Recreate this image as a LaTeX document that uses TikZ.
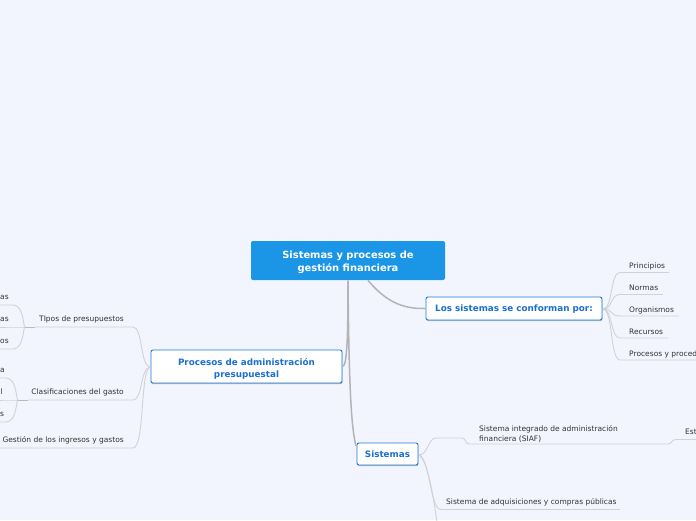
\documentclass[tikz,border=0pt]{standalone}
\usepackage{fontspec}
\setmainfont{DejaVu Sans}
\usetikzlibrary{shadows}
\definecolor{bgc}{HTML}{F2F5FD}
\definecolor{rootfill}{HTML}{1B96E6}
\definecolor{nodeborder}{HTML}{1E7BD6}
\definecolor{nodetext}{HTML}{1A6FCF}
\definecolor{mainline}{HTML}{B4B4B8}
\definecolor{leafline}{HTML}{D0D2D8}
\definecolor{hubline}{HTML}{B8BAC0}
\definecolor{leaftext}{HTML}{333333}
\tikzset{
  rootbox/.style={fill=rootfill, rounded corners=2pt, text=white, align=center,
    font=\bfseries\fontsize{9.9}{13}\selectfont, inner sep=0pt,
    minimum width=194pt, minimum height=39pt},
  mainbox/.style={draw=nodeborder, fill=white, rounded corners=2pt, line width=0.9pt,
    text=nodetext, align=center, font=\bfseries\fontsize{8.8}{12}\selectfont, inner sep=0pt,
    drop shadow={shadow xshift=0.4pt, shadow yshift=-1.2pt, opacity=0.25, fill=black}},
  leaf/.style={text=leaftext, font=\fontsize{7.5}{10}\selectfont, inner sep=0pt},
  mainconn/.style={draw=mainline, line width=1.5pt},
  leafconn/.style={draw=leafline, line width=0.9pt},
  hubconn/.style={draw=hubline, line width=0.9pt}
}
\begin{document}
\begin{tikzpicture}[x=1pt,y=-1pt]
\fill[bgc] (0,0) rectangle (696,520);
\useasboundingbox (0,0) rectangle (696,520);

% ---- main nodes
\node[rootbox] (root) at (348,260.5) {\rule{0pt}{11pt}Sistemas y procesos de\\gestión financiera};

\coordinate (rootA) at (368,280.5);
\coordinate (rootB) at (348,280.5);
\coordinate (sistIn) at (356,446);

\node[mainbox, minimum width=176pt, minimum height=23pt] (los) at (514,308.5) {\rule{0pt}{8pt}Los sistemas se conforman por:};
\node[mainbox, minimum width=191pt, minimum height=33pt] (proc) at (246.5,366.5) {\rule{0pt}{11.5pt}Procesos de administración\\presupuestal};
\node[mainbox, minimum width=61pt, minimum height=22pt] (sist) at (387.5,454) {Sistemas};

\draw[mainconn] (rootA) .. controls (385,300) and (400,309) .. (los.west);
\draw[mainconn] (rootB) .. controls (348,340) and (347,366) .. (proc.east);
\draw[mainconn] (rootB) .. controls (349,400) and (352,430) .. (sistIn);

% ---- children of "Los sistemas se conforman por:"
\node[leaf, anchor=base west] (princ) at (629,268) {Principios};
\node[leaf, anchor=base west] (normas) at (629,290) {Normas};
\node[leaf, anchor=base west] (organ) at (629,312) {Organismos};
\node[leaf, anchor=base west] (recur) at (629,334) {Recursos};
\node[leaf, anchor=base west] (procy) at (629,356) {Procesos y proced};
\coordinate (losOut) at (603,309);
\coordinate (princA) at (620,272.5); \coordinate (princB) at (669,272.5);
\coordinate (normasA) at (620,294.5); \coordinate (normasB) at (663,294.5);
\coordinate (organA) at (620,316); \coordinate (organB) at (679,316);
\coordinate (recurA) at (620,338); \coordinate (recurB) at (668,338);
\coordinate (procyA) at (620,360); \coordinate (procyB) at (697,360);
\foreach \n in {princ,normas,organ,recur,procy}{
  \draw[leafconn] (losOut) .. controls (613,309) and (610,0|-\n A) .. (\n A) -- (\n B);
}

% ---- children of "Sistemas"
\node[leaf, anchor=west, align=left] (siaf) at (479,433.5) {Sistema integrado de administración\\financiera (SIAF)};
\node[leaf, anchor=base west] (adq) at (446,504.5) {Sistema de adquisiciones y compras públicas};
\node[leaf, anchor=base west] (est) at (685,434.5) {Est};
\coordinate (sistOut) at (419,455);
\coordinate (siafA) at (436,438); \coordinate (siafB) at (462,438);
\coordinate (siafC) at (469,444); \coordinate (siafD) at (668,444);
\coordinate (estA) at (676,439.5); \coordinate (estB) at (697,439.5);
\coordinate (adqA) at (441,509.5); \coordinate (adqB) at (620,509.5);
\coordinate (nextC) at (437,522);
\draw[leafconn] (sistOut) .. controls (428,455) and (428,438) .. (siafA) -- (siafB)
   .. controls (466,438) and (465,444) .. (siafC) -- (siafD)
   .. controls (672,444) and (671,439.5) .. (estA) -- (estB);
\draw[leafconn] (sistOut) .. controls (430,458) and (430,509.5) .. (adqA) -- (adqB);
\draw[leafconn] (sistOut) .. controls (428,462) and (433,495) .. (nextC);

% ---- children of "Procesos de administración presupuestal"
\node[leaf, anchor=base east] (tipos) at (124,321.5) {TIpos de presupuestos};
\node[leaf, anchor=base east] (clasif) at (124,394.5) {Clasificaciones del gasto};
\node[leaf, anchor=base east] (gest) at (124,442.5) {Gestión de los ingresos y gastos};
\coordinate (procOut) at (150.5,367);
\coordinate (tiposA) at (133,327); \coordinate (tiposB) at (35,327);
\coordinate (clasifA) at (133,400); \coordinate (clasifB) at (28,400);
\coordinate (gestA) at (133,448); \coordinate (gestB) at (-1,448);
\draw[leafconn] (procOut) .. controls (140,367) and (143,327) .. (tiposA) -- (tiposB);
\draw[leafconn] (procOut) .. controls (140,367) and (143,400) .. (clasifA) -- (clasifB);
\draw[leafconn] (procOut) .. controls (140,367) and (145,448) .. (gestA) -- (gestB);

% sub-hub of "TIpos de presupuestos"
\coordinate (hubT) at (25,327);
\draw[hubconn] (tiposB) -- (hubT);
\node[leaf, anchor=base west] (t1) at (0,299.5) {as};
\node[leaf, anchor=base west] (t2) at (0,321.5) {as};
\node[leaf, anchor=base west] (t3) at (0,343.5) {os};
\coordinate (t1A) at (13,305); \coordinate (t1B) at (-1,305);
\coordinate (t2A) at (13,327); \coordinate (t2B) at (-1,327);
\coordinate (t3A) at (13,349); \coordinate (t3B) at (-1,349);
\foreach \n in {t1,t2,t3}{
  \draw[leafconn] (hubT) .. controls (23,327) and (24,0|-\n A) .. (\n A) -- (\n B);
}

% sub-hub of "Clasificaciones del gasto"
\coordinate (hubC) at (18,400);
\draw[hubconn] (clasifB) -- (hubC);
\node[leaf, anchor=base west] (c1) at (0,372.5) {a};
\node[leaf, anchor=base west] (c2) at (0.5,394.5) {l};
\node[leaf, anchor=base west] (c3) at (0,416.5) {s};
\coordinate (c1A) at (6,378); \coordinate (c1B) at (-1,378);
\coordinate (c2A) at (6,400); \coordinate (c2B) at (-1,400);
\coordinate (c3A) at (6,422); \coordinate (c3B) at (-1,422);
\foreach \n in {c1,c2,c3}{
  \draw[leafconn] (hubC) .. controls (16,400) and (17,0|-\n A) .. (\n A) -- (\n B);
}
\end{tikzpicture}
\end{document}
